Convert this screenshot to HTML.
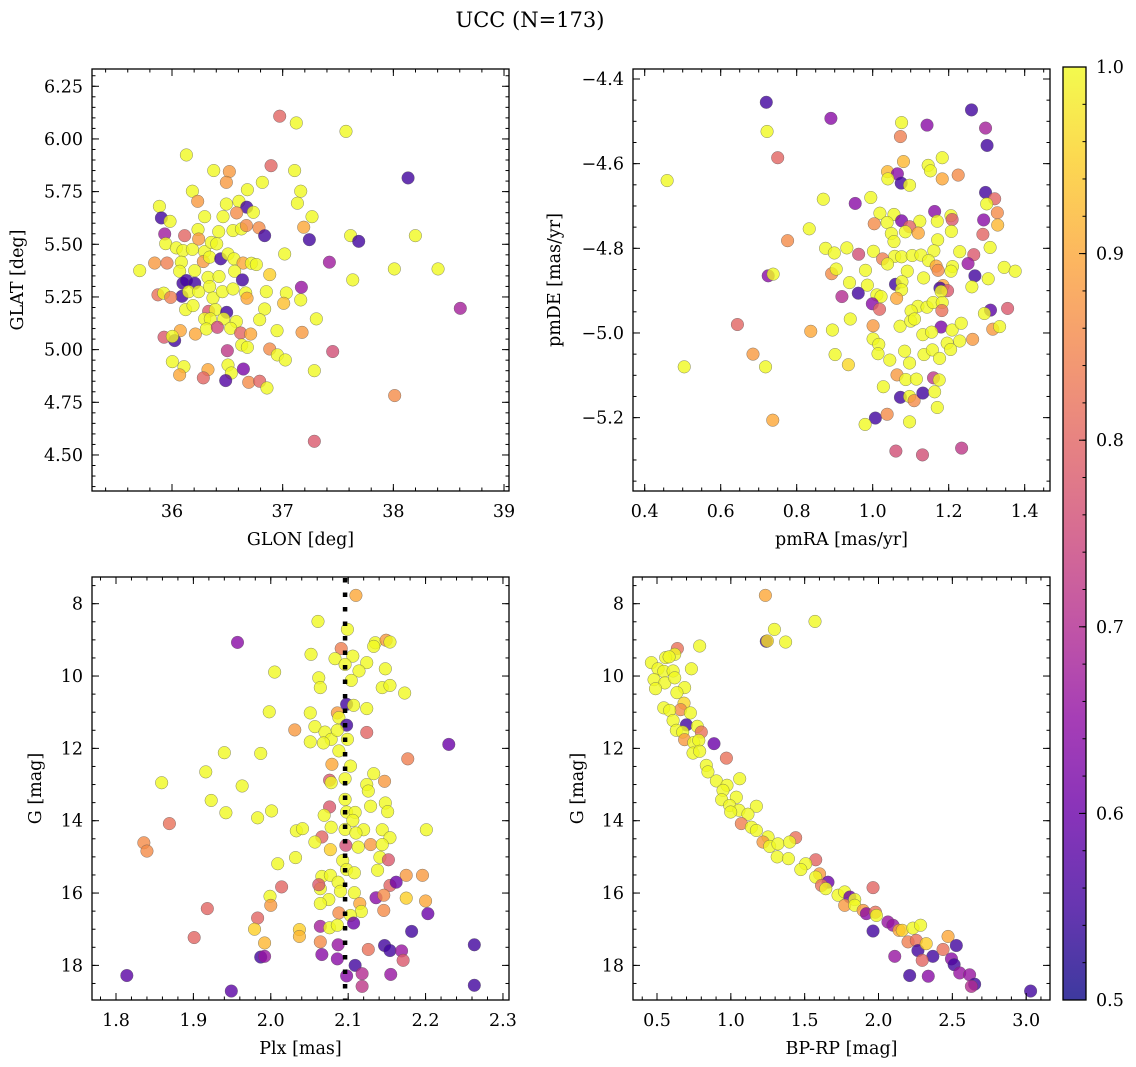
<!DOCTYPE html>
<html><head><meta charset="utf-8"><title>UCC (N=173)</title>
<style>
html,body{margin:0;padding:0;background:#fff;}
svg{display:block;font-family:"DejaVu Serif","Liberation Serif",serif;}
</style></head>
<body>
<svg id="fig" xmlns="http://www.w3.org/2000/svg" width="1136" height="1067" viewBox="0 0 1136 1067">
<rect x="0" y="0" width="1136" height="1067" fill="#fff"/>
<text x="530" y="27" text-anchor="middle" font-size="21">UCC (N=173)</text>
</svg>
<script>
// ---- data: [x, y, membership probability] ----
const glonGlat = [
[36.973,6.108,0.8],[37.123,6.076,1],[37.572,6.036,1],[36.130,5.924,1],[38.133,5.815,0.55],[36.895,5.873,0.8],
[36.377,5.850,1],[36.518,5.845,0.88],[37.108,5.850,1],[36.491,5.794,0.88],[36.816,5.794,1],[36.681,5.759,1],
[36.184,5.752,1],[37.163,5.752,1],[36.232,5.704,0.88],[36.491,5.691,1],[36.605,5.704,1],[36.675,5.676,0.55],
[36.584,5.649,0.86],[36.735,5.652,1],[37.133,5.695,1],[35.886,5.680,1],[35.904,5.625,0.55],[35.982,5.609,1],
[36.295,5.631,1],[36.461,5.631,1],[37.265,5.631,1],[35.934,5.549,0.67],[36.114,5.541,0.8],[36.235,5.570,1],
[36.422,5.560,1],[36.551,5.565,1],[36.627,5.573,1],[36.672,5.589,0.86],[36.786,5.578,0.86],[36.837,5.541,0.55],
[37.190,5.581,0.9],[37.241,5.522,0.55],[37.614,5.541,1],[37.687,5.514,0.55],[38.199,5.541,1],[35.943,5.503,1],
[36.039,5.483,1],[36.099,5.470,1],[36.184,5.476,1],[36.241,5.525,0.88],[36.295,5.465,1],[36.355,5.509,1],
[36.404,5.502,1],[37.018,5.454,1],[35.708,5.375,1],[35.843,5.411,0.88],[35.955,5.411,0.84],[36.084,5.415,1],
[36.069,5.372,1],[36.205,5.375,1],[36.283,5.418,0.88],[36.340,5.439,1],[36.440,5.431,0.55],[36.506,5.454,1],
[36.560,5.431,1],[36.642,5.411,0.9],[36.717,5.410,1],[36.762,5.404,1],[36.566,5.372,1],[36.883,5.356,0.95],
[37.422,5.415,0.67],[38.009,5.383,1],[38.404,5.383,1],[36.099,5.315,0.55],[36.130,5.328,0.55],[36.205,5.315,0.55],
[36.325,5.343,1],[36.425,5.347,1],[36.636,5.331,0.55],[37.633,5.331,1],[36.090,5.253,0.55],[35.873,5.260,0.82],
[35.925,5.268,1],[35.988,5.248,0.84],[36.151,5.275,1],[36.241,5.275,1],[36.340,5.299,1],[36.370,5.245,1],
[36.455,5.275,1],[36.551,5.288,1],[36.666,5.269,1],[36.852,5.275,1],[37.033,5.269,1],[37.169,5.296,0.66],
[36.678,5.244,0.9],[37.009,5.220,0.93],[37.163,5.236,1],[36.123,5.190,1],[36.190,5.209,1],[36.331,5.182,0.78],
[36.392,5.190,1],[36.494,5.177,0.55],[36.837,5.193,1],[38.605,5.196,0.68],[36.295,5.146,1],[36.346,5.146,1],
[36.467,5.146,1],[36.581,5.133,1],[36.792,5.142,1],[37.304,5.146,1],[36.075,5.090,0.9],[35.928,5.059,0.78],
[36.024,5.043,0.55],[36.003,5.063,1],[36.211,5.074,0.9],[36.310,5.098,1],[36.410,5.106,0.75],[36.530,5.101,1],
[36.620,5.079,0.8],[36.711,5.074,0.9],[36.949,5.090,1],[37.175,5.082,0.88],[36.630,5.022,1],[36.681,5.011,1],
[36.500,4.995,0.72],[36.883,5.003,0.86],[36.952,4.975,1],[37.024,4.951,1],[37.452,4.991,0.76],[36.003,4.943,1],
[36.108,4.919,1],[36.069,4.880,0.9],[36.325,4.905,0.9],[36.283,4.866,0.8],[36.506,4.927,1],[36.536,4.889,1],
[36.645,4.908,0.62],[36.485,4.853,0.57],[36.693,4.845,0.86],[36.792,4.850,0.8],[36.858,4.818,1],[37.286,4.900,1],
[38.012,4.782,0.86],[37.286,4.565,0.78]
];
const pmraPmde = [
[0.720,-4.455,0.55],[0.890,-4.493,0.64],[1.076,-4.503,1],[1.143,-4.509,0.64],[1.260,-4.473,0.55],[1.297,-4.516,0.68],
[1.301,-4.557,0.55],[0.722,-4.524,1],[1.073,-4.536,0.84],[0.750,-4.586,0.8],[0.459,-4.640,1],[1.081,-4.595,0.92],
[1.183,-4.586,1],[1.146,-4.604,1],[1.152,-4.617,1],[1.039,-4.619,0.92],[1.065,-4.624,0.64],[1.040,-4.636,1],
[1.075,-4.646,0.55],[1.097,-4.651,1],[1.183,-4.636,0.9],[1.225,-4.627,0.86],[0.870,-4.684,1],[0.995,-4.680,1],
[0.954,-4.694,0.64],[1.297,-4.668,0.55],[1.321,-4.683,0.8],[1.300,-4.695,1],[1.019,-4.717,1],[1.056,-4.720,1],
[1.163,-4.713,0.64],[1.206,-4.723,1],[1.209,-4.732,0.78],[1.328,-4.716,0.86],[1.292,-4.733,0.64],[1.076,-4.735,0.62],
[1.038,-4.739,1],[1.124,-4.736,1],[1.170,-4.736,1],[1.004,-4.742,0.86],[1.097,-4.749,0.8],[1.329,-4.745,0.92],
[0.833,-4.754,1],[1.086,-4.761,1],[1.120,-4.764,0.9],[1.207,-4.760,1],[1.049,-4.765,1],[1.290,-4.767,0.8],
[0.776,-4.782,0.86],[1.056,-4.784,1],[1.171,-4.780,1],[1.309,-4.798,1],[0.876,-4.800,1],[0.899,-4.811,1],
[0.932,-4.799,1],[0.963,-4.814,0.76],[1.002,-4.807,1],[1.058,-4.819,1],[1.076,-4.820,1],[1.104,-4.817,1],
[1.127,-4.816,1],[1.161,-4.806,1],[1.229,-4.808,1],[1.266,-4.815,0.78],[1.026,-4.825,0.84],[1.039,-4.837,1],
[1.147,-4.829,1],[1.251,-4.836,0.66],[1.167,-4.842,0.9],[1.172,-4.852,0.86],[1.210,-4.843,1],[1.206,-4.854,1],
[1.346,-4.845,1],[1.375,-4.854,1],[0.725,-4.865,0.64],[0.738,-4.861,1],[0.892,-4.860,0.86],[0.904,-4.849,1],
[0.981,-4.852,1],[1.091,-4.854,1],[1.269,-4.865,0.55],[0.939,-4.881,1],[1.060,-4.885,0.55],[1.077,-4.879,1],
[1.076,-4.898,1],[1.134,-4.870,1],[0.986,-4.887,1],[1.185,-4.888,0.9],[1.177,-4.894,0.55],[1.197,-4.900,0.78],
[1.180,-4.902,1],[1.304,-4.872,1],[1.261,-4.891,1],[0.919,-4.914,0.7],[0.962,-4.906,0.55],[1.011,-4.910,1],
[1.022,-4.914,1],[1.063,-4.918,0.9],[0.999,-4.931,0.64],[1.018,-4.944,0.8],[1.119,-4.937,1],[1.143,-4.939,1],
[1.159,-4.928,1],[1.183,-4.928,1],[1.182,-4.947,0.82],[1.101,-4.948,1],[1.310,-4.946,0.58],[1.294,-4.954,1],
[1.355,-4.942,0.78],[0.644,-4.980,0.8],[0.837,-4.996,0.9],[0.894,-4.993,1],[0.941,-4.967,1],[1.001,-4.983,0.88],
[1.072,-4.984,1],[1.100,-4.972,1],[1.110,-4.967,1],[1.180,-4.986,0.62],[1.132,-5.004,1],[1.155,-4.998,1],
[1.209,-4.993,1],[1.233,-4.977,1],[1.316,-4.991,0.88],[1.334,-4.985,1],[1.001,-5.014,1],[1.016,-5.027,1],
[1.196,-5.024,1],[1.229,-5.019,1],[1.263,-5.015,0.88],[0.685,-5.050,0.88],[0.504,-5.080,1],[0.718,-5.080,1],
[0.901,-5.051,1],[0.936,-5.075,0.96],[1.014,-5.049,1],[1.045,-5.064,1],[1.084,-5.043,1],[1.097,-5.071,1],
[1.135,-5.051,1],[1.157,-5.040,1],[1.176,-5.060,1],[1.205,-5.039,1],[1.064,-5.099,0.88],[1.087,-5.110,1],
[1.115,-5.109,1],[1.160,-5.106,0.72],[1.175,-5.111,1],[1.028,-5.127,1],[1.073,-5.152,0.55],[1.097,-5.150,1],
[1.109,-5.160,0.86],[1.132,-5.142,0.55],[1.163,-5.139,1],[1.170,-5.176,1],[0.737,-5.206,0.9],[1.007,-5.201,0.55],
[1.038,-5.192,0.86],[0.980,-5.216,1],[1.097,-5.210,1],[1.061,-5.279,0.76],[1.131,-5.288,0.76],[1.234,-5.272,0.72]
];
const plxG = [
[2.110,7.77,0.9],[2.061,8.49,1],[2.099,8.71,1],[1.957,9.07,0.64],[2.135,9.08,1],[2.149,9.01,0.88],[2.154,9.06,1],
[2.133,9.18,1],[2.091,9.24,0.84],[2.052,9.40,1],[2.083,9.52,1],[2.106,9.45,1],[2.096,9.68,1],[2.124,9.63,1],
[2.114,9.86,1],[2.148,9.80,1],[2.005,9.89,1],[2.062,10.05,1],[2.064,10.32,1],[2.104,10.12,1],[2.144,10.32,1],
[2.154,10.26,1],[2.173,10.47,1],[1.998,10.99,1],[2.051,11.02,1],[2.086,11.02,0.88],[2.088,11.15,1],[2.098,10.78,0.55],
[2.107,10.81,1],[2.124,10.90,1],[2.098,11.36,0.55],[2.031,11.49,0.88],[2.057,11.40,1],[2.070,11.55,1],[2.078,11.75,1],
[2.086,11.50,1],[2.099,11.75,1],[2.051,11.82,1],[2.068,11.85,1],[2.124,11.56,0.8],[2.230,11.89,0.6],[2.088,12.07,1],
[1.940,12.12,1],[1.987,12.14,1],[2.177,12.29,0.84],[2.079,12.44,0.9],[2.103,12.49,1],[1.916,12.65,1],[2.133,12.70,1],
[2.147,12.91,0.88],[2.076,12.88,0.78],[2.078,12.95,1],[2.096,12.84,1],[1.859,12.95,1],[1.963,13.04,1],[2.124,13.00,1],
[2.126,13.18,1],[2.096,13.41,1],[2.129,13.60,1],[2.148,13.51,1],[2.151,13.75,1],[1.923,13.44,1],[1.942,13.78,1],
[2.001,13.73,1],[2.076,13.62,0.78],[2.069,13.85,1],[2.098,13.76,1],[2.109,13.77,1],[1.983,13.92,1],[2.106,13.99,1],
[2.078,14.18,1],[2.096,14.24,1],[2.120,14.25,1],[2.144,14.25,1],[2.201,14.25,1],[1.869,14.08,0.82],[2.033,14.28,1],
[2.041,14.22,1],[2.110,14.34,1],[2.066,14.45,0.8],[2.057,14.59,1],[2.154,14.47,1],[1.836,14.61,0.86],[1.840,14.84,0.86],
[2.097,14.68,0.76],[2.113,14.73,1],[2.129,14.66,0.88],[2.144,14.66,1],[2.077,14.80,0.95],[2.141,15.01,1],[2.152,15.08,0.78],
[2.032,15.02,1],[2.009,15.19,1],[2.093,15.10,1],[2.098,15.35,1],[2.108,15.44,1],[2.138,15.37,1],[2.066,15.54,1],
[2.077,15.51,1],[2.087,15.70,1],[2.064,15.88,1],[2.062,15.77,0.78],[2.175,15.51,0.88],[2.196,15.51,0.88],[2.154,15.79,0.8],
[2.162,15.70,0.6],[2.014,15.83,0.8],[1.999,16.09,1],[2.000,16.34,0.88],[2.090,15.95,1],[2.108,15.99,1],[2.075,16.18,1],
[2.064,16.29,1],[2.136,16.13,0.64],[2.146,16.06,0.86],[2.175,16.14,0.95],[2.200,16.22,0.9],[2.115,16.29,0.9],[2.117,16.51,1],
[2.146,16.48,0.86],[2.088,16.55,0.86],[2.103,16.62,1],[2.203,16.57,0.6],[1.918,16.43,0.8],[1.983,16.69,0.8],[2.107,16.83,0.6],
[2.064,16.92,0.68],[2.076,16.96,1],[2.086,16.89,1],[2.037,17.01,0.95],[1.979,17.00,0.95],[2.037,17.20,0.92],[2.182,17.06,0.55],
[1.901,17.23,0.8],[1.992,17.38,0.92],[2.064,17.35,0.86],[2.087,17.43,0.66],[2.126,17.56,0.82],[2.147,17.45,0.55],[2.154,17.59,0.55],
[2.169,17.60,0.66],[2.171,17.86,0.78],[2.263,17.43,0.55],[1.987,17.77,0.55],[1.992,17.75,0.66],[2.066,17.70,0.64],[2.086,17.82,0.64],
[2.109,18.00,0.55],[2.098,18.29,0.64],[2.118,18.23,0.7],[2.155,18.25,0.66],[2.118,18.58,0.72],[2.263,18.55,0.55],[1.814,18.28,0.58],
[1.949,18.71,0.58]
];
const bprpG = [
[1.234,7.77,0.9],[1.570,8.49,1],[1.295,8.71,1],[1.240,9.04,0.55],[1.247,9.03,0.97],[1.371,9.06,1],[0.789,9.17,1],
[0.638,9.24,0.82],[0.620,9.40,1],[0.559,9.49,1],[0.582,9.47,1],[0.462,9.63,1],[0.507,9.80,1],[0.546,9.87,1],
[0.609,9.86,1],[0.733,9.80,1],[0.480,10.10,1],[0.553,10.19,1],[0.620,10.05,1],[0.490,10.35,1],[0.687,10.32,1],
[0.635,10.46,1],[0.683,10.75,0.96],[0.660,10.93,0.86],[0.546,10.88,1],[0.586,10.95,1],[0.726,11.02,1],[0.609,11.23,1],
[0.699,11.35,0.55],[0.773,11.39,1],[0.631,11.50,1],[0.674,11.55,1],[0.800,11.55,0.82],[0.687,11.76,0.88],[0.749,11.84,1],
[0.886,11.87,0.6],[0.783,11.78,1],[0.744,12.13,1],[0.789,12.08,1],[0.970,12.27,0.82],[0.834,12.47,1],[0.845,12.65,1],
[1.060,12.84,1],[0.902,12.90,1],[0.974,13.02,1],[0.947,13.16,1],[1.037,13.35,1],[0.938,13.42,1],[1.173,13.60,1],
[0.992,13.58,1],[1.055,13.71,1],[0.999,13.76,1],[1.116,13.82,1],[1.071,14.08,0.84],[1.139,14.18,1],[1.173,14.27,1],
[1.439,14.47,0.82],[1.252,14.45,1],[1.218,14.59,0.88],[1.263,14.71,1],[1.319,14.64,1],[1.398,14.59,1],[1.314,15.00,1],
[1.390,15.05,1],[1.575,15.08,0.8],[1.507,15.19,1],[1.474,15.35,1],[1.601,15.47,0.88],[1.575,15.56,1],[1.658,15.70,0.6],
[1.614,15.79,0.82],[1.643,15.88,1],[1.963,15.85,0.8],[1.726,16.06,1],[1.771,15.97,1],[1.806,16.11,0.6],[1.771,16.34,0.88],
[1.839,16.18,1],[1.839,16.34,1],[1.896,16.48,0.88],[1.918,16.57,0.64],[1.979,16.53,0.82],[1.986,16.62,1],[2.064,16.80,0.66],
[2.098,16.89,0.66],[2.139,17.03,0.9],[2.161,17.03,0.95],[1.963,17.05,0.55],[2.233,16.97,1],[2.285,16.89,1],[2.200,17.35,0.84],
[2.256,17.31,0.82],[2.267,17.59,0.55],[2.323,17.40,0.95],[2.368,17.75,0.55],[2.296,17.86,0.8],[2.110,17.75,0.66],[2.437,17.56,0.82],
[2.471,17.20,0.9],[2.527,17.45,0.55],[2.494,17.82,0.64],[2.512,17.98,0.55],[2.211,18.28,0.55],[2.337,18.30,0.64],[2.550,18.21,0.66],
[2.617,18.26,0.66],[2.651,18.52,0.55],[2.629,18.58,0.7],[3.030,18.71,0.55]
];
// ticks
const glonTicks = [36, 37, 38, 39];
const glatTicks = [4.50, 4.75, 5.00, 5.25, 5.50, 5.75, 6.00, 6.25];
const pmraTicks = [0.4, 0.6, 0.8, 1.0, 1.2, 1.4];
const pmdeTicks = [-5.2, -5.0, -4.8, -4.6, -4.4];
const plxTicks = [1.8, 1.9, 2.0, 2.1, 2.2, 2.3];
const gTicks = [8, 10, 12, 14, 16, 18];
const bprpTicks = [0.5, 1.0, 1.5, 2.0, 2.5, 3.0];
const cbarTicks = [0.5, 0.6, 0.7, 0.8, 0.9, 1.0];
const plxMedian = [2.096];

const NS = "http://www.w3.org/2000/svg";
const svg = document.getElementById('fig');
const plasma = [[13,8,135],[65,4,157],[106,0,168],[143,13,164],[177,42,144],[204,71,120],[225,100,98],[242,132,75],[252,166,54],[252,206,37],[240,249,33]];
function cmap(p){
  let t = Math.max(0, Math.min(1, (p - 0.5) / 0.5)) * 10;
  const i = Math.min(9, Math.floor(t)), f = t - i;
  const a = plasma[i], b = plasma[i+1];
  return 'rgb(' + [0,1,2].map(k => Math.round(a[k] + (b[k]-a[k])*f)).join(',') + ')';
}
function el(tag, attrs, parent){
  const e = document.createElementNS(NS, tag);
  for (const k in attrs) e.setAttribute(k, attrs[k]);
  (parent || svg).appendChild(e);
  return e;
}
function fmt(v, d){ const s = v.toFixed(d); return s.replace('-', '\u2212'); }

function makeAxes(c){
  const g = el('g', {});
  
  
  const sx = v => c.x0 + (v - c.xmin) / (c.xmax - c.xmin) * c.w;
  const sy = c.yinv ? (v => c.y0 + (v - c.ymin) / (c.ymax - c.ymin) * c.h)
                    : (v => c.y0 + c.h - (v - c.ymin) / (c.ymax - c.ymin) * c.h);
  const pts = el('g', {}, g);
  
  
  c.data.forEach(d => {
    const ci = el('circle', {cx: sx(d[0]), cy: sy(d[1]), r: 6.3, fill: cmap(d[2]), 'fill-opacity': 0.8, stroke: '#555', 'stroke-width': 0.5, 'stroke-opacity': 0.7}, pts);
    
    
  });
  const tk = el('g', {stroke: '#000', 'stroke-width': 1}, g);
  // minor ticks
  for (let v = Math.ceil(c.xmin / c.xminor) * c.xminor; v <= c.xmax; v += c.xminor){
    const x = sx(v);
    el('line', {x1: x, x2: x, y1: c.y0 + c.h, y2: c.y0 + c.h - 3.5}, tk);
    el('line', {x1: x, x2: x, y1: c.y0, y2: c.y0 + 3.5}, tk);
  }
  const ylo = Math.min(c.ymin, c.ymax), yhi = Math.max(c.ymin, c.ymax);
  for (let v = Math.ceil(ylo / c.yminor) * c.yminor; v <= yhi; v += c.yminor){
    const y = sy(v);
    el('line', {x1: c.x0, x2: c.x0 + 3.5, y1: y, y2: y}, tk);
    el('line', {x1: c.x0 + c.w, x2: c.x0 + c.w - 3.5, y1: y, y2: y}, tk);
  }
  c.xticks.forEach(v => {
    const x = sx(v);
    el('line', {x1: x, x2: x, y1: c.y0 + c.h, y2: c.y0 + c.h - 7}, tk);
    el('line', {x1: x, x2: x, y1: c.y0, y2: c.y0 + 7}, tk);
    const t = el('text', {x: x, y: c.y0 + c.h + 26, 'text-anchor': 'middle', 'font-size': 17.5}, g);
    t.textContent = fmt(v, c.xdec);
    
    
  });
  c.yticks.forEach(v => {
    const y = sy(v);
    el('line', {x1: c.x0, x2: c.x0 + 7, y1: y, y2: y}, tk);
    el('line', {x1: c.x0 + c.w, x2: c.x0 + c.w - 7, y1: y, y2: y}, tk);
    const t = el('text', {x: c.x0 - 9, y: y + 6, 'text-anchor': 'end', 'font-size': 17.5}, g);
    t.textContent = fmt(v, c.ydec);
    
    
  });
  el('rect', {x: c.x0, y: c.y0, width: c.w, height: c.h, fill: 'none', stroke: '#000', 'stroke-width': 1.3}, g);
  const xl = el('text', {x: c.x0 + c.w / 2, y: c.y0 + c.h + 54, 'text-anchor': 'middle', 'font-size': 17.5}, g);
  xl.textContent = c.xlabel;
  
  
  const yx = c.ylx, yy = c.y0 + c.h / 2;
  const yl = el('text', {x: yx, y: yy, 'text-anchor': 'middle', 'font-size': 17.5, transform: 'rotate(-90 ' + yx + ' ' + yy + ')'}, g);
  yl.textContent = c.ylabel;
  
  
  return {sx, sy, g};
}

makeAxes({name: 'glon-glat-panel', data: glonGlat, x0: 92, y0: 69, w: 417, h: 422,
  xmin: 35.277, xmax: 39.045, ymin: 4.329, ymax: 6.332, xticks: glonTicks, yticks: glatTicks,
  xminor: 0.2, yminor: 0.05, xdec: 0, ydec: 2, xlabel: 'GLON [deg]', ylabel: 'GLAT [deg]', ylx: 23});
makeAxes({name: 'proper-motion-panel', data: pmraPmde, x0: 633, y0: 69, w: 417, h: 422,
  xmin: 0.3692, xmax: 1.4666, ymin: -5.3733, ymax: -4.3764, xticks: pmraTicks, yticks: pmdeTicks,
  xminor: 0.05, yminor: 0.05, xdec: 1, ydec: 1, xlabel: 'pmRA [mas/yr]', ylabel: 'pmDE [mas/yr]', ylx: 560});
const p3 = makeAxes({name: 'parallax-magnitude-panel', data: plxG, x0: 92, y0: 577, w: 417, h: 423,
  xmin: 1.769, xmax: 2.3078, ymin: 7.262, ymax: 18.957, yinv: true, xticks: plxTicks, yticks: gTicks,
  xminor: 0.02, yminor: 0.5, xdec: 1, ydec: 0, xlabel: 'Plx [mas]', ylabel: 'G [mag]', ylx: 41});
makeAxes({name: 'cmd-panel', data: bprpG, x0: 633, y0: 577, w: 417, h: 423,
  xmin: 0.3375, xmax: 3.1613, ymin: 7.262, ymax: 18.957, yinv: true, xticks: bprpTicks, yticks: gTicks,
  xminor: 0.1, yminor: 0.5, xdec: 1, ydec: 0, xlabel: 'BP-RP [mag]', ylabel: 'G [mag]', ylx: 583});

// median parallax dotted line
const ml = el('line', {x1: p3.sx(plxMedian[0]), x2: p3.sx(plxMedian[0]), y1: 578, y2: 1000, stroke: '#000', 'stroke-width': 4.5, 'stroke-dasharray': '4.5 10'});



// colorbar
const cb = el('g', {});


const defs = el('defs', {}, cb);
const lg = el('linearGradient', {id: 'plasmaGrad', x1: 0, y1: 1, x2: 0, y2: 0}, defs);
for (let i = 0; i <= 20; i++){ el('stop', {offset: i / 20, 'stop-color': cmap(0.5 + i / 40), 'stop-opacity': 0.8}, lg); }
const cbx = 1063, cbw = 23, cby0 = 67, cby1 = 1000;
const cy = v => cby1 - (v - 0.5) / 0.5 * (cby1 - cby0);
el('rect', {x: cbx, y: cby0, width: cbw, height: cby1 - cby0, fill: 'url(#plasmaGrad)'}, cb);
for (let v = 0.5; v <= 1.0001; v += 0.02){ el('line', {x1: cbx + cbw, x2: cbx + cbw - 3.5, y1: cy(v), y2: cy(v), stroke: '#000', 'stroke-width': 1}, cb); }
cbarTicks.forEach(v => {
  el('line', {x1: cbx + cbw, x2: cbx + cbw - 7, y1: cy(v), y2: cy(v), stroke: '#000', 'stroke-width': 1}, cb);
  const t = el('text', {x: cbx + cbw + 10, y: cy(v) + 6, 'font-size': 17.5}, cb);
  t.textContent = v.toFixed(1);
  
  
});
el('rect', {x: cbx, y: cby0, width: cbw, height: cby1 - cby0, fill: 'none', stroke: '#000', 'stroke-width': 1.3}, cb);
</script>
</body></html>
